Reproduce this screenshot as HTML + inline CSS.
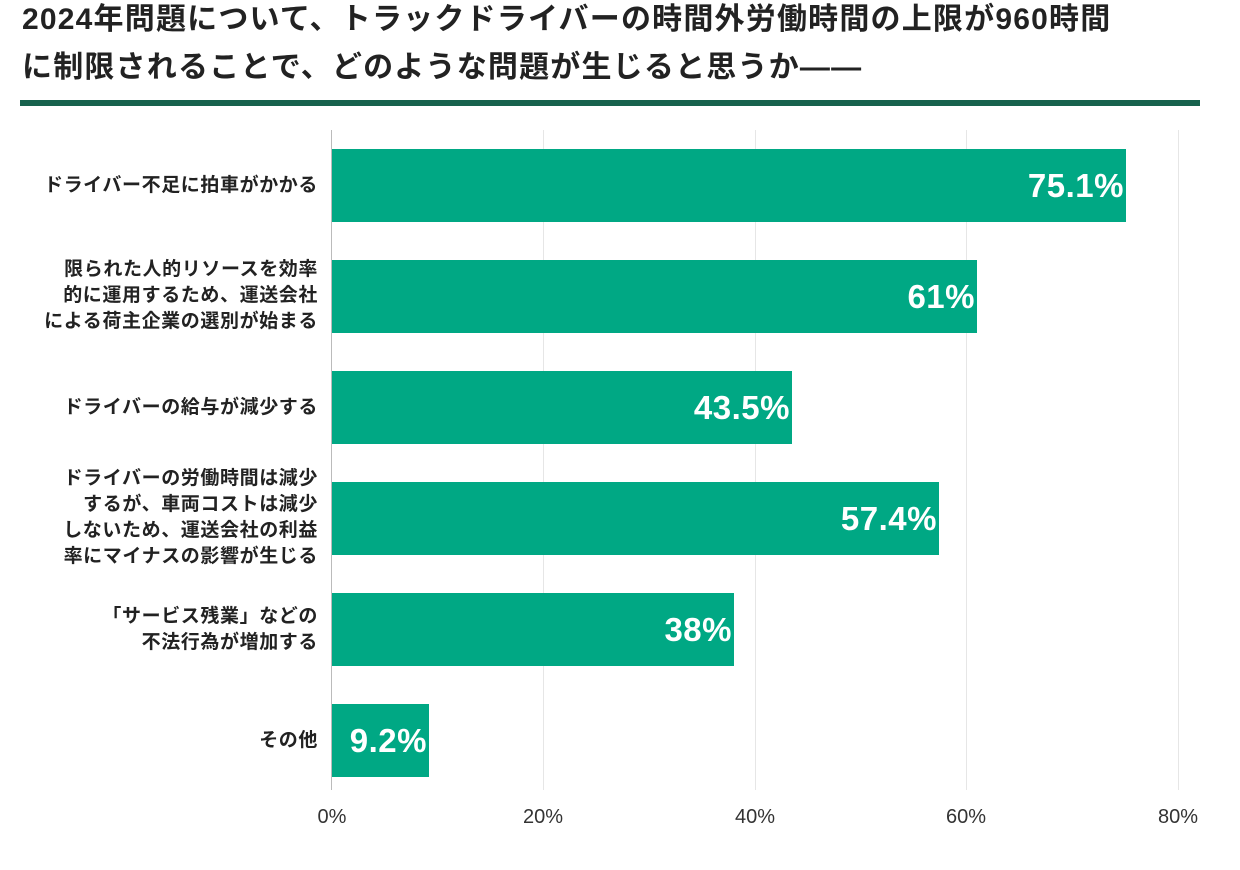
<!DOCTYPE html>
<html><head><meta charset="utf-8"><style>
body{margin:0;width:1240px;height:870px;background:#fff;font-family:"Liberation Sans","Noto Sans CJK JP",sans-serif;position:relative;overflow:hidden}
.t{position:absolute;left:22px;font-size:30px;font-weight:bold;color:#222;white-space:nowrap;letter-spacing:1.2px;line-height:36px}
.rule{position:absolute;left:20px;top:100px;width:1180px;height:6px;background:#17624d}
.g{position:absolute;top:130px;width:1px;height:660px;background:#e6e6e6}
.ax{position:absolute;left:331px;top:130px;width:1px;height:660px;background:#bbb}
.bar{position:absolute;left:332px;height:73px;background:#00a884}
.v{position:absolute;right:2px;top:0;line-height:73px;color:#fff;font-weight:bold;font-size:33px;letter-spacing:0.5px}
.c{position:absolute;right:922px;width:320px;text-align:right;font-size:19px;font-weight:bold;color:#222;line-height:26px;letter-spacing:0.6px}
.tk{position:absolute;top:806px;font-size:20px;color:#333;width:80px;margin-left:-40px;text-align:center}
</style></head><body>
<div class="t" style="top:2px">2024年問題について、トラックドライバーの時間外労働時間の上限が960時間</div>
<div class="t" style="top:50px">に制限されることで、どのような問題が生じると思うか——</div>
<div class="rule"></div>
<div class="g" style="left:543px"></div><div class="g" style="left:755px"></div><div class="g" style="left:966px"></div><div class="g" style="left:1178px"></div>
<div class="ax"></div>
<div class="bar" style="top:149px;width:794px"><span class="v">75.1%</span></div>
<div class="bar" style="top:260px;width:645px"><span class="v">61%</span></div>
<div class="bar" style="top:371px;width:460px"><span class="v">43.5%</span></div>
<div class="bar" style="top:482px;width:607px"><span class="v">57.4%</span></div>
<div class="bar" style="top:593px;width:402px"><span class="v">38%</span></div>
<div class="bar" style="top:704px;width:97px"><span class="v">9.2%</span></div>
<div class="c" style="top:173px">ドライバー不足に拍車がかかる</div>
<div class="c" style="top:257px">限られた人的リソースを効率<br>的に運用するため、運送会社<br>による荷主企業の選別が始まる</div>
<div class="c" style="top:395px">ドライバーの給与が減少する</div>
<div class="c" style="top:466px">ドライバーの労働時間は減少<br>するが、車両コストは減少<br>しないため、運送会社の利益<br>率にマイナスの影響が生じる</div>
<div class="c" style="top:604px">「サービス残業」などの<br>不法行為が増加する</div>
<div class="c" style="top:728px">その他</div>
<div class="tk" style="left:332px">0%</div><div class="tk" style="left:543px">20%</div><div class="tk" style="left:755px">40%</div><div class="tk" style="left:966px">60%</div><div class="tk" style="left:1178px">80%</div>
</body></html>
